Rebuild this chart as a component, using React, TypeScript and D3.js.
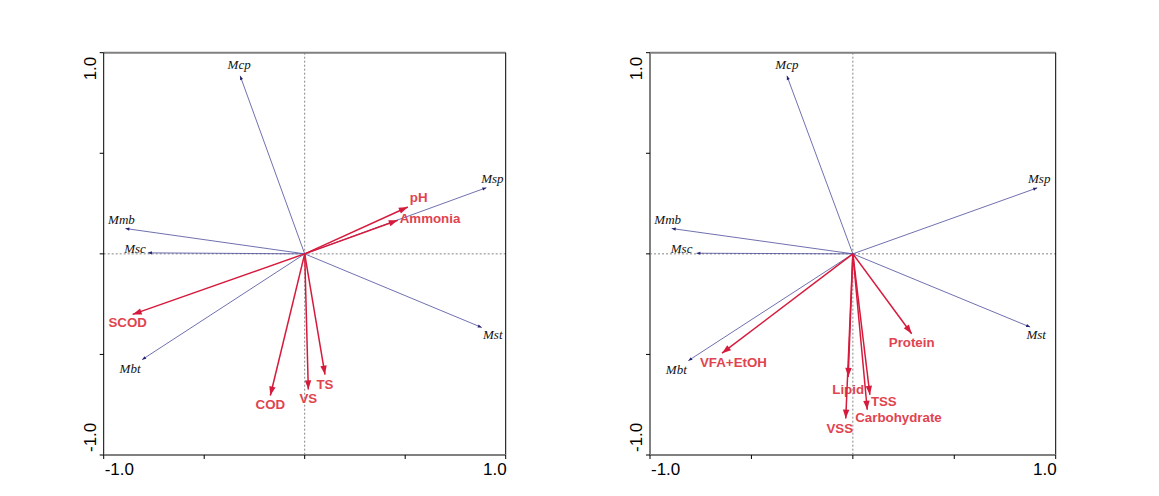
import React from "react";
import * as d3 from "d3";

// ---- Data ----
const speciesNames = ["Mcp", "Msp", "Mmb", "Msc", "Mbt", "Mst"];
const leftSpeciesX = [-0.321, 0.904, -0.892, -0.78, -0.809, 0.881];
const leftSpeciesY = [0.885, 0.329, 0.126, 0.005, -0.526, -0.366];
const leftEnvNames = ["pH", "Ammonia", "SCOD", "COD", "VS", "TS"];
const leftEnvX = [0.513, 0.463, -0.856, -0.171, 0.018, 0.101];
const leftEnvY = [0.233, 0.167, -0.301, -0.704, -0.674, -0.6];

const rightSpeciesX = [-0.325, 0.909, -0.893, -0.771, -0.811, 0.874];
const rightSpeciesY = [0.885, 0.328, 0.126, 0.003, -0.531, -0.364];
const rightEnvNames = ["VFA+EtOH", "Protein", "Lipid", "VSS", "TSS", "Carbohydrate"];
const rightEnvX = [-0.645, 0.29, -0.023, -0.035, 0.084, 0.071];
const rightEnvY = [-0.494, -0.397, -0.612, -0.819, -0.701, -0.775];

const tickValues = [-1, -0.5, 0, 0.5, 1];
const tickLabels = ["-1.0", "1.0"];

// ---- Layout (label offsets relative to arrow tips) ----
type Lab = { dx: number; dy: number; anchor: string };
const leftSpeciesLab: Lab[] = [
  { dx: -1, dy: -7, anchor: "middle" },
  { dx: 6, dy: -5, anchor: "middle" },
  { dx: -4, dy: -5, anchor: "middle" },
  { dx: -2, dy: 0, anchor: "end" },
  { dx: -12, dy: 13, anchor: "middle" },
  { dx: 11, dy: 12, anchor: "middle" },
];
const leftEnvLab: Lab[] = [
  { dx: 2, dy: -5, anchor: "start" },
  { dx: 2, dy: 3, anchor: "start" },
  { dx: -5, dy: 13, anchor: "middle" },
  { dx: 0, dy: 14, anchor: "middle" },
  { dx: 0, dy: 14, anchor: "middle" },
  { dx: 0, dy: 14, anchor: "middle" },
];
const rightSpeciesLab: Lab[] = [
  { dx: 0, dy: -7, anchor: "middle" },
  { dx: 2, dy: -5, anchor: "middle" },
  { dx: -4, dy: -5, anchor: "middle" },
  { dx: -4, dy: 0, anchor: "end" },
  { dx: -12, dy: 13, anchor: "middle" },
  { dx: 6, dy: 12, anchor: "middle" },
];
const rightEnvLab: Lab[] = [
  { dx: -22, dy: 14, anchor: "start" },
  { dx: 0, dy: 13, anchor: "middle" },
  { dx: 0, dy: 17, anchor: "middle" },
  { dx: -6, dy: 14, anchor: "middle" },
  { dx: 1, dy: 11, anchor: "start" },
  { dx: -12, dy: 12, anchor: "start" },
];

const RED = "#d61a3c";
const RED_TEXT = "#e0444f";
const BLUE = "#4b4b9c";
const GRAY = "#808080";

function arrowHead(x0: number, y0: number, x1: number, y1: number, len: number, half: number) {
  const a = Math.atan2(y1 - y0, x1 - x0);
  const bx = x1 - len * Math.cos(a);
  const by = y1 - len * Math.sin(a);
  const px = -Math.sin(a) * half;
  const py = Math.cos(a) * half;
  return `M${x1},${y1}L${bx + px},${by + py}L${bx - px},${by - py}Z`;
}

type PanelProps = {
  x0: number; x1: number; y0: number; y1: number;
  spX: number[]; spY: number[]; spLab: Lab[];
  envNames: string[]; envX: number[]; envY: number[]; envLab: Lab[];
  leftGray: boolean;
};

function Panel(p: PanelProps) {
  const sx = d3.scaleLinear().domain([-1, 1]).range([p.x0, p.x1]);
  const sy = d3.scaleLinear().domain([-1, 1]).range([p.y1, p.y0]);
  const cx = sx(0), cy = sy(0);
  return (
    <g>
      {/* zero axes */}
      <line x1={p.x0} x2={p.x1} y1={cy} y2={cy} stroke="#666" strokeWidth={0.8} strokeDasharray="2,2" />
      <line x1={cx} x2={cx} y1={p.y0} y2={p.y1} stroke="#666" strokeWidth={0.8} strokeDasharray="2,2" />
      {/* frame */}
      <line x1={p.x0} x2={p.x1} y1={p.y0} y2={p.y0} stroke={GRAY} strokeWidth={2} />
      <line x1={p.x1} x2={p.x1} y1={p.y0} y2={p.y1} stroke="#000" strokeWidth={1} />
      <line x1={p.x0} x2={p.x0} y1={p.y0} y2={p.y1} stroke={p.leftGray ? GRAY : "#000"} strokeWidth={p.leftGray ? 2 : 1} />
      <line x1={p.x0} x2={p.x1} y1={p.y1} y2={p.y1} stroke={GRAY} strokeWidth={2} />
      {/* ticks */}
      {tickValues.map((t, i) => (
        <line key={"tx" + i} x1={sx(t)} x2={sx(t)} y1={p.y1} y2={p.y1 + 4} stroke="#000" strokeWidth={1} />
      ))}
      {tickValues.map((t, i) => (
        <line key={"ty" + i} x1={p.x0 - 4} x2={p.x0} y1={sy(t)} y2={sy(t)} stroke="#000" strokeWidth={1} />
      ))}
      {/* tick labels */}
      <text x={p.x0 + 1} y={p.y1 + 20} fontFamily="Liberation Sans, Arial, sans-serif" fontSize={17} textAnchor="start">{tickLabels[0]}</text>
      <text x={p.x1 + 1} y={p.y1 + 20} fontFamily="Liberation Sans, Arial, sans-serif" fontSize={17} textAnchor="end">{tickLabels[1]}</text>
      <text transform={`translate(${p.x0 - 8},${p.y0 + 4}) rotate(-90)`} fontFamily="Liberation Sans, Arial, sans-serif" fontSize={17} textAnchor="end">{tickLabels[1]}</text>
      <text transform={`translate(${p.x0 - 8},${p.y1 - 3}) rotate(-90)`} fontFamily="Liberation Sans, Arial, sans-serif" fontSize={17} textAnchor="start">{tickLabels[0]}</text>
      {/* species vectors */}
      {speciesNames.map((n, i) => {
        const tx = sx(p.spX[i]), ty = sy(p.spY[i]);
        const l = p.spLab[i];
        return (
          <g key={"sp" + n}>
            <line x1={cx} y1={cy} x2={tx} y2={ty} stroke={BLUE} strokeWidth={0.8} />
            <path d={arrowHead(cx, cy, tx, ty, 4, 1.6)} fill="#22226e" />
            <text x={tx + l.dx} y={ty + l.dy} textAnchor={l.anchor} fontFamily="Liberation Serif, Times New Roman, serif" fontStyle="italic" fontSize={13} fill="#111">{n}</text>
          </g>
        );
      })}
      {/* environmental vectors */}
      {p.envNames.map((n, i) => {
        const tx = sx(p.envX[i]), ty = sy(p.envY[i]);
        const l = p.envLab[i];
        return (
          <g key={"env" + n}>
            <line x1={cx} y1={cy} x2={tx} y2={ty} stroke={RED} strokeWidth={1.5} />
            <path d={arrowHead(cx, cy, tx, ty, 9, 3.2)} fill={RED} />
            <text x={tx + l.dx} y={ty + l.dy} textAnchor={l.anchor} fontFamily="Liberation Sans, Arial, sans-serif" fontWeight="bold" fontSize={13.3} fill={RED_TEXT}>{n}</text>
          </g>
        );
      })}
    </g>
  );
}

export default function App() {
  return (
    <svg width={1159} height={496} style={{ position: "absolute", left: 0, top: 0, background: "#fff" }}>
      <rect width={1159} height={496} fill="#fff" />
      <Panel x0={103.7} x1={505.7} y0={52.7} y1={455}
        spX={leftSpeciesX} spY={leftSpeciesY} spLab={leftSpeciesLab}
        envNames={leftEnvNames} envX={leftEnvX} envY={leftEnvY} envLab={leftEnvLab}
        leftGray={false} />
      <Panel x0={650} x1={1055.7} y0={52.7} y1={455}
        spX={rightSpeciesX} spY={rightSpeciesY} spLab={rightSpeciesLab}
        envNames={rightEnvNames} envX={rightEnvX} envY={rightEnvY} envLab={rightEnvLab}
        leftGray={true} />
    </svg>
  );
}
